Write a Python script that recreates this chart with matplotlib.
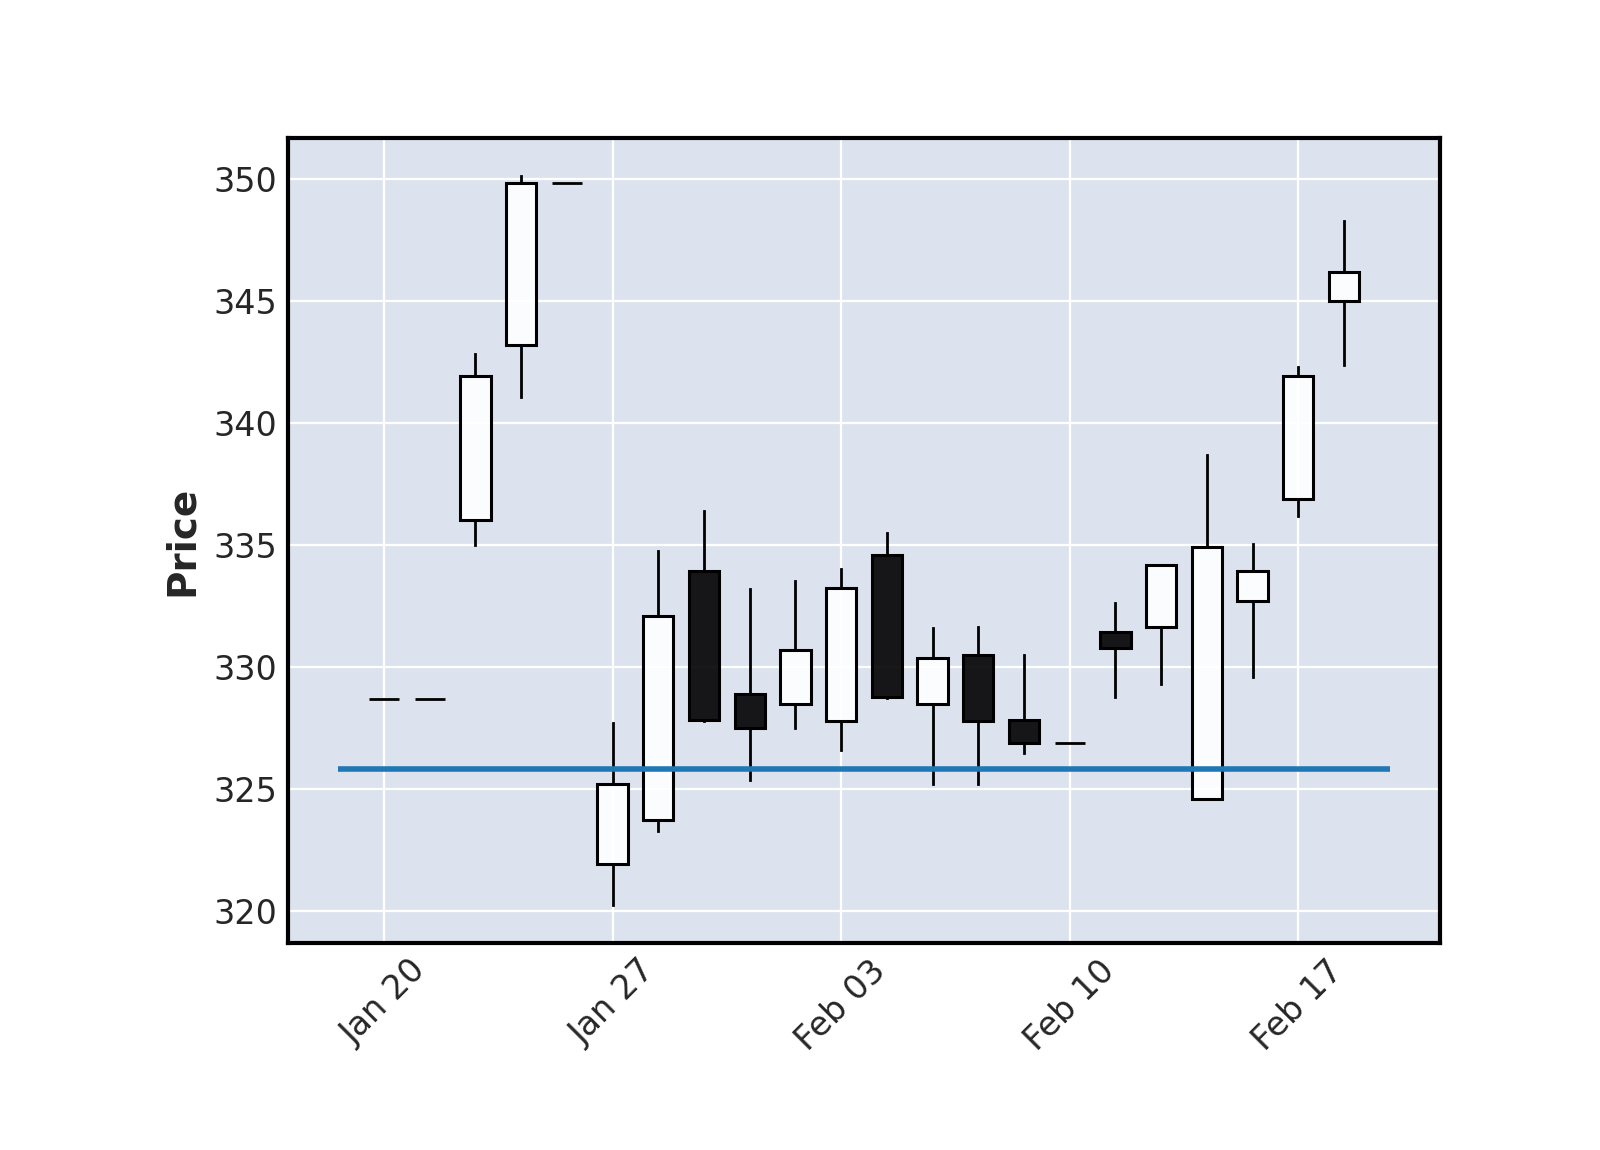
import matplotlib
matplotlib.use("Agg")
import matplotlib.pyplot as plt
from matplotlib.patches import Rectangle

# trading days (index based x axis, no gaps for weekends)
dates = ["Jan 20", "Jan 21", "Jan 22", "Jan 23", "Jan 24",
         "Jan 27", "Jan 28", "Jan 29", "Jan 30", "Jan 31",
         "Feb 03", "Feb 04", "Feb 05", "Feb 06", "Feb 07",
         "Feb 10", "Feb 11", "Feb 12", "Feb 13", "Feb 14",
         "Feb 17", "Feb 18"]

opens = [328.7, 328.7, 336.05, 343.2, 349.85,
         321.95, 323.75, 333.95, 328.9, 328.5,
         327.8, 334.6, 328.5, 330.5, 327.85,
         326.9, 331.45, 331.65, 324.6, 332.7,
         336.9, 345.0]
highs = [328.7, 328.7, 342.85, 350.15, 349.85,
         327.7, 334.75, 336.4, 333.2, 333.55,
         334.05, 335.5, 331.6, 331.65, 330.5,
         326.9, 332.65, 334.2, 338.7, 335.05,
         342.3, 348.3]
lows = [328.7, 328.7, 335.0, 341.1, 349.85,
        320.25, 323.3, 327.8, 325.4, 327.5,
        326.6, 328.75, 325.2, 325.2, 326.5,
        326.9, 328.8, 329.3, 324.6, 329.6,
        336.2, 342.4]
closes = [328.7, 328.7, 341.95, 349.85, 349.85,
          325.2, 332.1, 327.85, 327.5, 330.7,
          333.25, 328.8, 330.4, 327.8, 326.9,
          326.9, 330.8, 334.2, 334.95, 333.95,
          341.95, 346.2]

hline_level = 325.85
tick_idx = [0, 5, 10, 15, 20]

fig = plt.figure(figsize=(8, 5.75), dpi=200)
ax = fig.add_axes([0.18, 0.18, 0.72, 0.70])
ax.set_facecolor("#DCE3EF")
ax.set_axisbelow(True)
ax.grid(True, color="white", linewidth=0.8)

w = 0.66
for i in range(len(dates)):
    o, h, l, c = opens[i], highs[i], lows[i], closes[i]
    lo = min(o, c)
    hi = max(o, c)
    # wicks only outside the body
    if h > hi:
        ax.plot([i, i], [hi, h], color="k", linewidth=1.0, zorder=2)
    if l < lo:
        ax.plot([i, i], [l, lo], color="k", linewidth=1.0, zorder=2)
    if hi - lo < 1e-6:
        # doji
        ax.plot([i - w / 2, i + w / 2], [o, o], color="k", linewidth=1.0,
                solid_capstyle="butt", zorder=3)
        continue
    fc = "w" if c >= o else "k"
    ax.add_patch(Rectangle((i - w / 2, lo), w, hi - lo, facecolor=fc,
                           alpha=0.9, edgecolor="none", zorder=3))
    ax.add_patch(Rectangle((i - w / 2, lo), w, hi - lo, facecolor="none",
                           edgecolor="k", linewidth=1.1, zorder=3))

ax.plot([-1, len(dates)], [hline_level, hline_level], color="#1f77b4",
        linewidth=2.0, solid_capstyle="butt", zorder=4)

ax.set_xlim(-2.1, 23.1)
ax.set_ylim(318.7, 351.7)
ax.set_yticks([320, 325, 330, 335, 340, 345, 350])
ax.set_xticks(tick_idx)
ax.set_xticklabels([dates[i] for i in tick_idx], rotation=45)
ax.tick_params(length=0, labelsize=12, labelcolor="#262626", pad=4)
ax.set_ylabel("Price", fontsize=14, fontweight="bold", color="#262626",
              labelpad=4.3)
for s in ax.spines.values():
    s.set_linewidth(1.5)
    s.set_color("k")

fig.savefig("out.png", dpi=200)
